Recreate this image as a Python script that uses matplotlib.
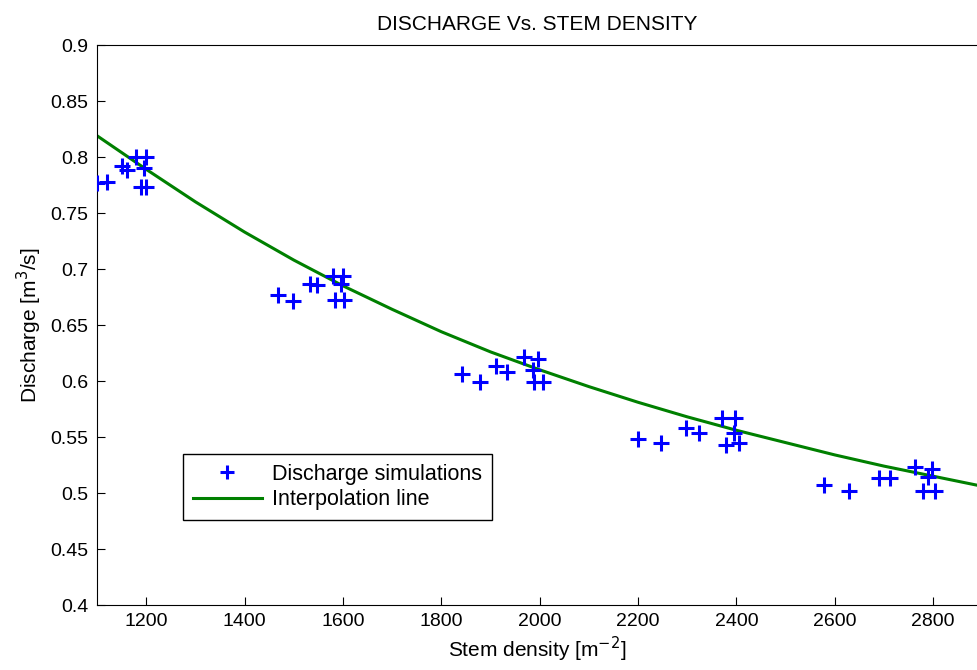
import matplotlib
matplotlib.use('Agg')
import matplotlib.pyplot as plt

plt.rcParams['font.family'] = ['Liberation Sans', 'DejaVu Sans']

# simulaciones de caudal
densidad = [1100, 1120, 1150, 1160, 1180, 1200, 1195, 1190, 1200,
            1468, 1498, 1533, 1548, 1580, 1600, 1596, 1584, 1603,
            1842, 1879, 1911, 1934, 1968, 1997, 1987, 1989, 2006,
            2199, 2247, 2298, 2324, 2370, 2397, 2394, 2379, 2406,
            2577, 2628, 2689, 2712, 2763, 2797, 2790, 2780, 2804]
caudal = [0.777, 0.778, 0.792, 0.788, 0.800, 0.800, 0.790, 0.773, 0.773,
          0.677, 0.671, 0.687, 0.686, 0.694, 0.694, 0.687, 0.672, 0.672,
          0.606, 0.599, 0.613, 0.608, 0.621, 0.620, 0.610, 0.599, 0.599,
          0.548, 0.545, 0.558, 0.554, 0.567, 0.567, 0.554, 0.543, 0.545,
          0.507, 0.502, 0.513, 0.513, 0.523, 0.521, 0.514, 0.502, 0.502]

# linea de interpolacion
dens_linea = [1100, 1200, 1300, 1400, 1500, 1600, 1700, 1800, 1900, 2000,
              2100, 2200, 2300, 2400, 2500, 2600, 2700, 2800, 2900]
caudal_linea = [0.819, 0.789, 0.760, 0.733, 0.708, 0.685, 0.664, 0.644, 0.626, 0.610,
                0.595, 0.581, 0.568, 0.556, 0.545, 0.534, 0.524, 0.515, 0.506]

fig = plt.figure(figsize=(9.78, 6.70), dpi=100)
ax = fig.add_axes([0.0992, 0.097, 0.9008, 0.8358])

ax.plot(densidad, caudal, '+', color='blue', markersize=12, markeredgewidth=2.2,
        label='Discharge simulations', zorder=3)
ax.plot(dens_linea, caudal_linea, '-', color=(0, 0.5, 0), linewidth=2.2,
        label='Interpolation line', zorder=2)

ax.set_xlim(1100, 2891)
ax.set_ylim(0.4, 0.9)
ax.set_xticks(range(1200, 2801, 200))
ax.set_yticks([0.4, 0.45, 0.5, 0.55, 0.6, 0.65, 0.7, 0.75, 0.8, 0.85, 0.9])
ax.set_yticklabels(['0.4', '0.45', '0.5', '0.55', '0.6', '0.65', '0.7', '0.75', '0.8', '0.85', '0.9'])
ax.tick_params(direction='in', length=6, labelsize=14, top=False, right=False, pad=6)
ax.spines['right'].set_visible(False)

ax.set_title('DISCHARGE Vs. STEM DENSITY', fontsize=15, pad=11)
ax.set_xlabel('Stem density [m$^{-2}$]', fontsize=15, labelpad=3)
ax.set_ylabel('Discharge [m$^{3}$/s]', fontsize=15, labelpad=5)

leg = ax.legend(loc='lower left', bbox_to_anchor=(0.0976, 0.152), borderaxespad=0,
                fontsize=15.5, fancybox=False, framealpha=1, edgecolor='black',
                handlelength=3.2, handletextpad=0.5, borderpad=0.45, labelspacing=0.2,
                markerscale=0.8)
leg.get_frame().set_linewidth(1.0)

fig.savefig('out.png', dpi=100)
